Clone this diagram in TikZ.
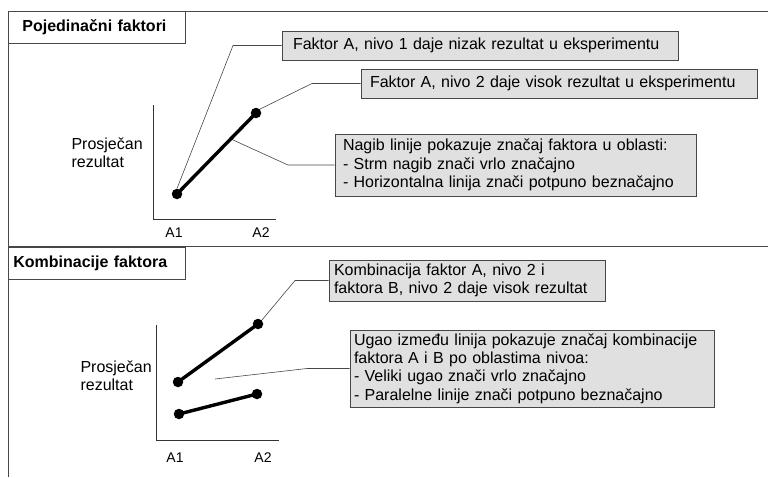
\documentclass[tikz,border=0pt]{standalone}
\usepackage{fontspec}
\setmainfont{Liberation Sans}
\usetikzlibrary{positioning}

\tikzset{
  frameline/.style={draw=black!72, line width=0.8pt},
  titlebox/.style={draw=black!72, fill=white, line width=0.8pt, anchor=north west,
    align=left, minimum height=32pt, font=\fontsize{16}{19}\selectfont\bfseries},
  notebox/.style={draw=black!72, fill=black!12, line width=0.8pt, align=left,
    inner ysep=1pt, font=\fontsize{16}{18.4}\selectfont},
  leader/.style={draw=black!72, line width=0.6pt},
  meanline/.style={line width=3.4pt},
  level/.style={circle, fill=black, inner sep=0pt, minimum size=10.5pt},
  axis/.style={draw=black!80, line width=0.9pt},
  ticklabel/.style={anchor=base, font=\fontsize{14}{16}\selectfont},
  ylabel/.style={anchor=west, align=left, font=\fontsize{16}{18}\selectfont}
}

\begin{document}
\begin{tikzpicture}[x=1pt, y=-1pt]
\useasboundingbox (0,0) rectangle (768,477);

\draw[frameline] (768,11) -- (8,11) -- (8,477);
\draw[frameline] (8,246.5) -- (768,246.5);

% pojedinacni faktori
\node[titlebox, text width=149pt, inner xsep=14pt] (t1) at (8,11) {Pojedinačni faktori};

\draw[axis] (153,105) |- (276,219);
\node[ticklabel] (a1) at (174,237) {A1};
\node[ticklabel] (a2) at (261,237) {A2};
\node[ylabel] (y1) at (68,153) {Prosječan\\rezultat};

\node[level] (p1) at (177,194) {};
\node[level] (p2) at (256,113) {};
\path (p1.center) -- (p2.center) coordinate[pos=0.68] (m1);

\node[notebox, text width=374pt, inner xsep=11pt, minimum height=29pt] (f1) at (480,45.5)
  {Faktor A, nivo 1 daje nizak rezultat u eksperimentu};
\node[notebox, text width=378pt, inner xsep=9pt, minimum height=29pt] (f2) at (559,83.5)
  {Faktor A, nivo 2 daje visok rezultat u eksperimentu};
\node[notebox, text width=345pt, inner xsep=8pt, minimum height=62pt] (f3) at (515.5,165)
  {Nagib linije pokazuje značaj faktora u oblasti:\\
   - Strm nagib znači vrlo značajno\\
   - Horizontalna linija znači potpuno beznačajno};

\coordinate (b1) at (233,45.5);
\coordinate (b2) at (312,83.5);
\coordinate (b3) at (288,165);
\draw[leader] (p1.north) -- (b1) -- (f1.west);
\draw[leader] (p2.north east) -- (b2) -- (f2.west);
\draw[leader] (m1) -- (b3) -- (f3.west);
\draw[meanline] (p1.center) -- (p2.center);

% kombinacije faktora
\node[titlebox, text width=167pt, inner xsep=5pt] (t2) at (8,246.5) {Kombinacije faktora};

\draw[axis] (156,325) |- (279,440);
\node[ticklabel] (c1) at (175,462) {A1};
\node[ticklabel] (c2) at (263,462) {A2};
\node[ylabel] (y2) at (77,376) {Prosječan\\rezultat};

\node[level] (q1) at (178,382) {};
\node[level] (q2) at (258,324) {};
\node[level] (r1) at (179,414) {};
\node[level] (r2) at (257,394) {};
\draw[meanline] (q1.center) -- (q2.center);
\draw[meanline] (r1.center) -- (r2.center);

\node[notebox, text width=266pt, inner xsep=5pt, minimum height=41pt] (k1) at (467,280.5)
  {Kombinacija faktor A, nivo 2 i\\
   faktora B, nivo 2 daje visok rezultat};
\node[notebox, text width=356pt, inner xsep=4pt, minimum height=77pt] (k2) at (532,368.5)
  {Ugao između linija pokazuje značaj kombinacije\\
   faktora A i B po oblastima nivoa:\\
   - Veliki ugao znači vrlo značajno\\
   - Paralelne linije znači potpuno beznačajno};

\coordinate (d1) at (295,280.5);
\coordinate (d2) at (307,368.5);
\coordinate (e2) at (215,379);
\draw[leader] (q2.north east) -- (d1) -- (k1.west);
\draw[leader] (e2) -- (d2) -- (k2.west);

\end{tikzpicture}
\end{document}
